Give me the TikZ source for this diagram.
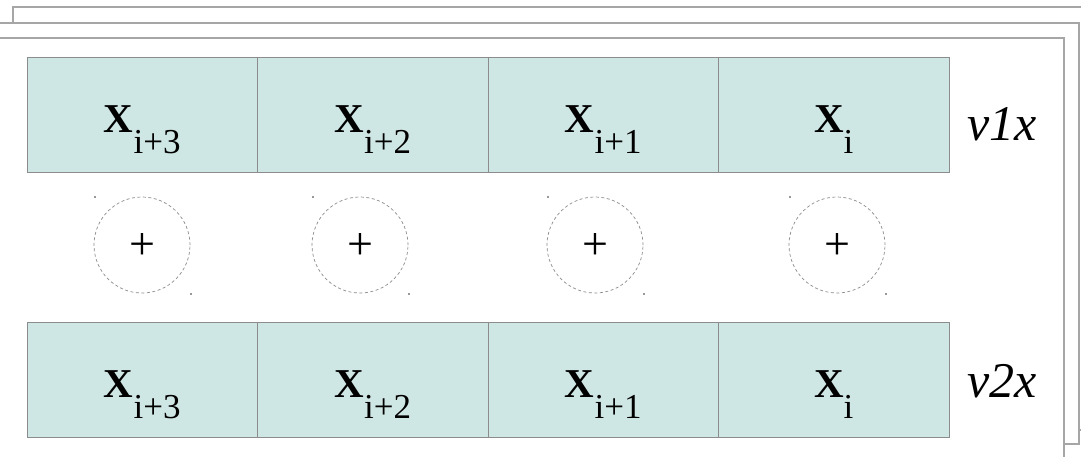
\documentclass[tikz,border=0pt]{standalone}
\usepackage{fontspec}
\setmainfont{Liberation Serif}
\begin{document}
\begin{tikzpicture}[x=1pt,y=-1pt,
  frame/.style={draw=black!35,fill=white,line width=1.1pt},
  cell/.style={draw=black!45,fill=cellc,line width=1pt,minimum width=230.5pt,minimum height=115pt,inner sep=0pt,rectangle},
  xlab/.style={anchor=base,inner sep=0pt},
  vlab/.style={anchor=base west,inner sep=0pt,font=\fontsize{50}{50}\selectfont\itshape},
  opc/.style={circle,draw=black!45,dash pattern=on 3pt off 2.5pt,line width=0.7pt,minimum size=96pt,inner sep=0pt},
  tick/.style={fill=black!40,inner sep=0pt,minimum size=1.6pt,rectangle}]
\definecolor{cellc}{HTML}{CFE7E4}
\useasboundingbox (0,0) rectangle (1081,456);
\begin{scope}
\clip (0,0) rectangle (1081,456);
\draw[frame] (13,7) rectangle (1095,430);
\draw[frame] (-10,23) rectangle (1079,444);
\draw[frame] (-10,38) rectangle (1064,475);
\end{scope}
\newcommand{\xsub}[1]{{\fontsize{41}{41}\selectfont\bfseries X}\raisebox{-21pt}{\fontsize{35}{35}\selectfont #1}}
% top row
\node[cell] (a3) at (142.25,114.5) {};
\node[cell] (a2) at (372.75,114.5) {};
\node[cell] (a1) at (603.25,114.5) {};
\node[cell] (a0) at (833.75,114.5) {};
\node[xlab] (ta3) at (142.25,132) {\xsub{i+3}};
\node[xlab] (ta2) at (372.75,132) {\xsub{i+2}};
\node[xlab] (ta1) at (603.25,132) {\xsub{i+1}};
\node[xlab] (ta0) at (833.75,132) {\xsub{i}};
\node[vlab] (v1) at (967,140) {v1x};
% bottom row
\node[cell] (b3) at (142.25,379.5) {};
\node[cell] (b2) at (372.75,379.5) {};
\node[cell] (b1) at (603.25,379.5) {};
\node[cell] (b0) at (833.75,379.5) {};
\node[xlab] (tb3) at (142.25,397) {\xsub{i+3}};
\node[xlab] (tb2) at (372.75,397) {\xsub{i+2}};
\node[xlab] (tb1) at (603.25,397) {\xsub{i+1}};
\node[xlab] (tb0) at (833.75,397) {\xsub{i}};
\node[vlab] (v2) at (967,397) {v2x};
% operators
\foreach \cx [count=\k] in {142,360,595,837}{
  \node[opc] (op\k) at (\cx,245) {};
  \node[inner sep=0pt] (pl\k) at (\cx,246) {\fontsize{46}{46}\selectfont +};
  \node[tick] (ca\k) at (\cx-47,197) {};
  \node[tick] (cb\k) at (\cx+49,294) {};
}
\end{tikzpicture}
\end{document}
